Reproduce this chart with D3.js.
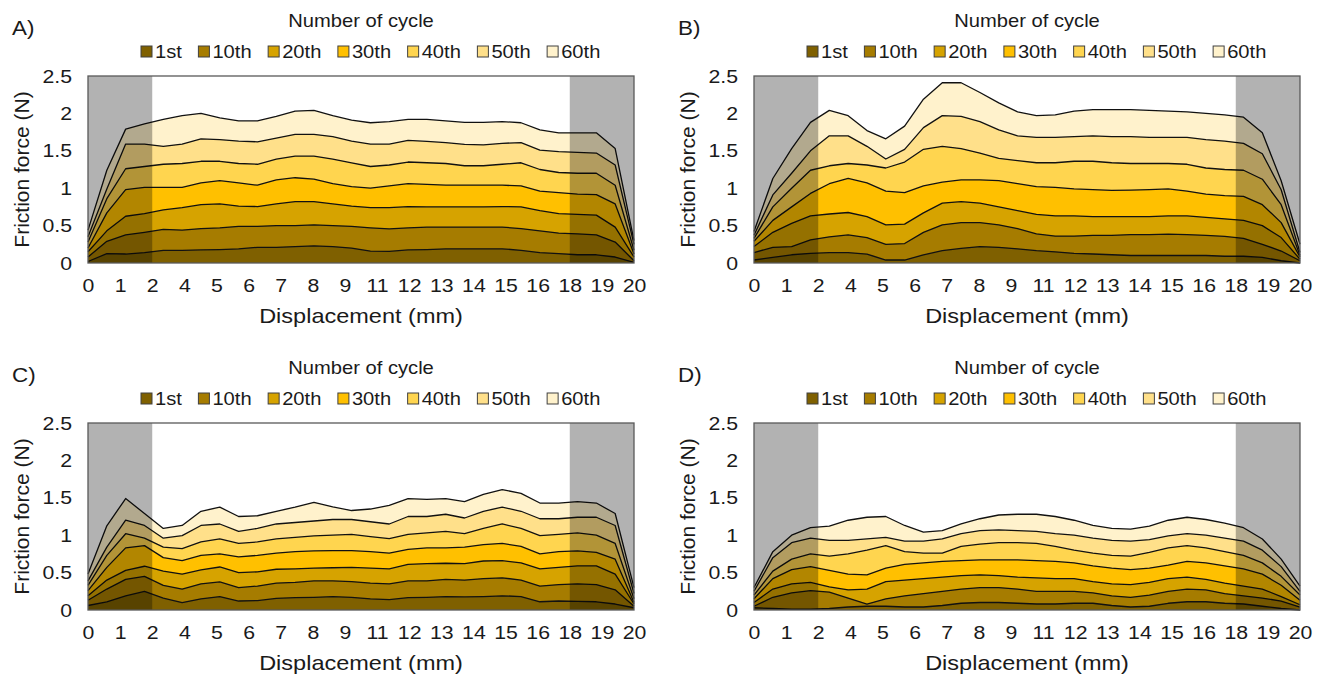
<!DOCTYPE html>
<html>
<head>
<meta charset="utf-8">
<script src="https://cdn.jsdelivr.net/npm/d3@7"></script>
<style>
  body { margin: 0; background: #fff; }
  text { font-family: "Liberation Sans", Arial, sans-serif; fill: #1a1a1a; }
</style>
</head>
<body>
<svg id="chart" width="1320" height="676"></svg>
<script>
// legend / series names
const cycles = ["1st", "10th", "20th", "30th", "40th", "50th", "60th"];
const colors = ["#7f6000", "#a67c00", "#d6a300", "#ffc000", "#ffd54f", "#ffe08a", "#fff2cc"];

// category labels under the x axis, and y ticks
const xLabels = ["0", "1", "2", "4", "5", "6", "7", "8", "9", "11", "12", "13", "14", "15", "16", "18", "19", "20"];
const yTicks = [0, 0.5, 1, 1.5, 2, 2.5];
// shaded run-in / run-out zones
const bands = [["0", "2"], ["18", "20"]];

// friction force (N) per cycle, 30 samples along the stroke
const forceA = [
  [0.02, 0.125, 0.12, 0.14, 0.17, 0.17, 0.175, 0.18, 0.19, 0.21, 0.21, 0.22, 0.23, 0.22, 0.20, 0.16, 0.155, 0.175, 0.18, 0.19, 0.19, 0.19, 0.19, 0.17, 0.14, 0.125, 0.11, 0.11, 0.08, 0.01],
  [0.08, 0.29, 0.375, 0.41, 0.45, 0.44, 0.46, 0.47, 0.49, 0.49, 0.50, 0.50, 0.51, 0.50, 0.49, 0.47, 0.455, 0.47, 0.48, 0.48, 0.48, 0.48, 0.48, 0.46, 0.43, 0.40, 0.39, 0.375, 0.28, 0.03],
  [0.15, 0.43, 0.625, 0.66, 0.71, 0.74, 0.78, 0.79, 0.76, 0.755, 0.79, 0.82, 0.82, 0.79, 0.76, 0.74, 0.74, 0.755, 0.75, 0.75, 0.75, 0.75, 0.755, 0.75, 0.70, 0.66, 0.65, 0.64, 0.48, 0.08],
  [0.20, 0.67, 0.98, 1.01, 1.01, 1.01, 1.07, 1.10, 1.07, 1.04, 1.11, 1.14, 1.12, 1.06, 1.02, 1.00, 1.03, 1.06, 1.05, 1.04, 1.04, 1.04, 1.04, 1.03, 0.96, 0.94, 0.92, 0.915, 0.79, 0.12],
  [0.28, 0.86, 1.26, 1.29, 1.32, 1.33, 1.36, 1.36, 1.33, 1.32, 1.39, 1.43, 1.43, 1.39, 1.34, 1.29, 1.31, 1.35, 1.34, 1.33, 1.30, 1.30, 1.32, 1.34, 1.25, 1.21, 1.20, 1.20, 1.04, 0.17],
  [0.35, 0.99, 1.59, 1.59, 1.56, 1.59, 1.66, 1.65, 1.63, 1.62, 1.67, 1.72, 1.72, 1.69, 1.63, 1.59, 1.59, 1.64, 1.625, 1.61, 1.585, 1.58, 1.60, 1.61, 1.51, 1.49, 1.48, 1.47, 1.31, 0.25],
  [0.44, 1.24, 1.79, 1.86, 1.92, 1.97, 2.00, 1.94, 1.90, 1.90, 1.96, 2.03, 2.04, 1.97, 1.91, 1.875, 1.89, 1.92, 1.92, 1.90, 1.88, 1.88, 1.89, 1.875, 1.78, 1.74, 1.74, 1.74, 1.53, 0.30]
];
const forceB = [
  [0.04, 0.075, 0.11, 0.13, 0.14, 0.14, 0.12, 0.04, 0.04, 0.11, 0.165, 0.195, 0.22, 0.21, 0.19, 0.165, 0.15, 0.13, 0.12, 0.11, 0.10, 0.10, 0.10, 0.10, 0.10, 0.09, 0.09, 0.075, 0.03, 0.00],
  [0.14, 0.21, 0.22, 0.31, 0.35, 0.375, 0.34, 0.25, 0.26, 0.41, 0.51, 0.54, 0.54, 0.51, 0.46, 0.39, 0.36, 0.36, 0.37, 0.37, 0.38, 0.38, 0.385, 0.38, 0.37, 0.355, 0.33, 0.25, 0.16, 0.03],
  [0.22, 0.41, 0.53, 0.63, 0.655, 0.675, 0.62, 0.51, 0.52, 0.67, 0.80, 0.82, 0.80, 0.75, 0.70, 0.65, 0.63, 0.63, 0.62, 0.62, 0.62, 0.62, 0.63, 0.63, 0.61, 0.59, 0.57, 0.50, 0.34, 0.05],
  [0.29, 0.57, 0.75, 0.93, 1.06, 1.13, 1.07, 0.96, 0.94, 1.03, 1.08, 1.11, 1.11, 1.10, 1.06, 1.02, 1.01, 0.99, 0.98, 0.97, 0.975, 0.98, 0.99, 0.96, 0.92, 0.90, 0.89, 0.78, 0.54, 0.08],
  [0.33, 0.75, 1.00, 1.24, 1.30, 1.33, 1.31, 1.27, 1.35, 1.52, 1.56, 1.53, 1.47, 1.40, 1.37, 1.34, 1.34, 1.36, 1.36, 1.34, 1.33, 1.33, 1.33, 1.32, 1.27, 1.25, 1.24, 1.12, 0.78, 0.10],
  [0.37, 0.91, 1.20, 1.50, 1.70, 1.70, 1.56, 1.39, 1.52, 1.81, 1.97, 1.96, 1.89, 1.78, 1.70, 1.68, 1.68, 1.69, 1.70, 1.69, 1.69, 1.68, 1.68, 1.68, 1.65, 1.63, 1.60, 1.46, 0.98, 0.14],
  [0.42, 1.13, 1.53, 1.88, 2.04, 1.97, 1.77, 1.66, 1.83, 2.19, 2.41, 2.41, 2.28, 2.14, 2.02, 1.97, 1.98, 2.03, 2.05, 2.05, 2.05, 2.04, 2.03, 2.02, 2.00, 1.98, 1.95, 1.74, 1.10, 0.25]
];
const forceC = [
  [0.06, 0.11, 0.19, 0.25, 0.16, 0.10, 0.15, 0.18, 0.12, 0.125, 0.155, 0.165, 0.17, 0.18, 0.17, 0.15, 0.14, 0.165, 0.17, 0.18, 0.175, 0.18, 0.19, 0.18, 0.11, 0.12, 0.115, 0.11, 0.08, 0.03],
  [0.13, 0.28, 0.41, 0.45, 0.33, 0.28, 0.35, 0.375, 0.30, 0.32, 0.36, 0.37, 0.39, 0.39, 0.38, 0.36, 0.35, 0.39, 0.39, 0.41, 0.40, 0.42, 0.43, 0.40, 0.32, 0.34, 0.35, 0.34, 0.27, 0.05],
  [0.19, 0.40, 0.53, 0.585, 0.52, 0.48, 0.535, 0.575, 0.50, 0.51, 0.545, 0.55, 0.56, 0.565, 0.57, 0.56, 0.55, 0.61, 0.62, 0.625, 0.62, 0.655, 0.66, 0.63, 0.55, 0.57, 0.59, 0.59, 0.48, 0.08],
  [0.26, 0.57, 0.83, 0.86, 0.70, 0.66, 0.73, 0.75, 0.71, 0.73, 0.76, 0.78, 0.79, 0.795, 0.795, 0.78, 0.76, 0.81, 0.83, 0.83, 0.84, 0.875, 0.89, 0.85, 0.75, 0.78, 0.79, 0.77, 0.68, 0.10],
  [0.33, 0.73, 1.02, 0.96, 0.84, 0.82, 0.91, 0.95, 0.89, 0.91, 0.95, 0.97, 0.99, 1.00, 1.01, 0.98, 0.955, 1.01, 1.03, 1.05, 1.02, 1.09, 1.15, 1.09, 0.995, 1.01, 1.03, 1.00, 0.89, 0.15],
  [0.39, 0.84, 1.20, 1.13, 0.96, 0.995, 1.13, 1.15, 1.05, 1.09, 1.15, 1.17, 1.19, 1.21, 1.21, 1.18, 1.15, 1.25, 1.25, 1.28, 1.23, 1.32, 1.375, 1.32, 1.22, 1.22, 1.24, 1.24, 1.13, 0.22],
  [0.48, 1.125, 1.49, 1.29, 1.09, 1.13, 1.32, 1.375, 1.25, 1.26, 1.32, 1.375, 1.44, 1.38, 1.33, 1.35, 1.40, 1.49, 1.48, 1.49, 1.45, 1.545, 1.61, 1.56, 1.43, 1.43, 1.45, 1.43, 1.29, 0.30]
];
const forceD = [
  [0.03, 0.02, 0.01, 0.01, 0.02, 0.04, 0.05, 0.05, 0.04, 0.04, 0.06, 0.09, 0.10, 0.10, 0.09, 0.08, 0.08, 0.09, 0.09, 0.06, 0.04, 0.05, 0.09, 0.11, 0.11, 0.09, 0.08, 0.05, 0.02, 0.00],
  [0.05, 0.17, 0.23, 0.26, 0.24, 0.16, 0.08, 0.15, 0.19, 0.22, 0.25, 0.28, 0.30, 0.30, 0.28, 0.25, 0.25, 0.25, 0.23, 0.19, 0.17, 0.20, 0.25, 0.28, 0.27, 0.22, 0.19, 0.16, 0.12, 0.04],
  [0.10, 0.28, 0.35, 0.37, 0.31, 0.27, 0.28, 0.38, 0.40, 0.42, 0.44, 0.46, 0.47, 0.46, 0.44, 0.43, 0.42, 0.42, 0.38, 0.35, 0.34, 0.37, 0.42, 0.44, 0.41, 0.36, 0.32, 0.28, 0.18, 0.07],
  [0.15, 0.42, 0.54, 0.58, 0.53, 0.48, 0.47, 0.56, 0.61, 0.63, 0.65, 0.66, 0.67, 0.67, 0.67, 0.66, 0.65, 0.63, 0.59, 0.56, 0.54, 0.56, 0.60, 0.65, 0.63, 0.59, 0.55, 0.48, 0.33, 0.13],
  [0.20, 0.52, 0.68, 0.75, 0.72, 0.75, 0.80, 0.86, 0.78, 0.76, 0.76, 0.85, 0.88, 0.90, 0.90, 0.89, 0.85, 0.80, 0.76, 0.73, 0.72, 0.77, 0.83, 0.86, 0.83, 0.78, 0.73, 0.63, 0.45, 0.20],
  [0.25, 0.70, 0.90, 0.96, 0.93, 0.93, 0.95, 0.97, 0.92, 0.92, 0.95, 1.02, 1.06, 1.07, 1.06, 1.05, 1.02, 1.00, 0.96, 0.93, 0.92, 0.94, 0.99, 1.02, 1.00, 0.96, 0.92, 0.80, 0.58, 0.25],
  [0.30, 0.78, 1.00, 1.10, 1.12, 1.20, 1.24, 1.25, 1.13, 1.04, 1.06, 1.15, 1.22, 1.27, 1.28, 1.28, 1.25, 1.20, 1.13, 1.09, 1.08, 1.12, 1.20, 1.24, 1.21, 1.16, 1.10, 0.95, 0.68, 0.32]
];

// the source figure is stretched horizontally, so the glyphs are too
const SX = 1.12;
const W = 546, H = 187;

const svg = d3.select("#chart");

const panels = [
  { label: "A)", data: forceA, left: 88, top: 76 },
  { label: "B)", data: forceB, left: 754, top: 76 },
  { label: "C)", data: forceC, left: 88, top: 423 },
  { label: "D)", data: forceD, left: 754, top: 423 }
];

function addText(g, x, y, str, size, anchor) {
  return g.append("text")
    .attr("transform", `translate(${x},${y}) scale(${SX},1)`)
    .attr("text-anchor", anchor || "start")
    .style("font-size", size + "px")
    .text(str);
}

function drawPanel(p) {
  const g = svg.append("g").attr("transform", `translate(${p.left},${p.top})`);

  const x = d3.scaleLinear().domain([0, p.data[0].length - 1]).range([0, W]);
  const xCat = d3.scalePoint().domain(xLabels).range([0, W]);
  const y = d3.scaleLinear().domain([0, 2.5]).range([H, 0]);

  const area = d3.area().x((d, i) => x(i)).y0(y(0)).y1(d => y(d));
  const line = d3.line().x((d, i) => x(i)).y(d => y(d));

  // 60th cycle sits at the back, 1st in front
  const order = d3.range(cycles.length).reverse();
  g.selectAll("path.area").data(order).join("path")
    .attr("class", "area")
    .attr("d", k => area(p.data[k]))
    .attr("fill", k => colors[k]);
  g.selectAll("path.edge").data(order).join("path")
    .attr("class", "edge")
    .attr("d", k => line(p.data[k]))
    .attr("fill", "none")
    .attr("stroke", "#111")
    .attr("stroke-width", 1.3)
    .attr("stroke-linejoin", "round");

  // grey zones
  g.selectAll("rect.band").data(bands).join("rect")
    .attr("class", "band")
    .attr("x", b => xCat(b[0]))
    .attr("width", b => xCat(b[1]) - xCat(b[0]))
    .attr("y", 0)
    .attr("height", H)
    .attr("fill", "#000")
    .attr("fill-opacity", 0.3);

  // frame
  g.append("rect").attr("width", W).attr("height", H)
    .attr("fill", "none").attr("stroke", "#595959").attr("stroke-width", 1.3);

  // axes
  const yAxis = g.append("g")
    .call(d3.axisLeft(y).tickValues(yTicks).tickSize(0).tickPadding(16).tickFormat(d => d));
  yAxis.select(".domain").remove();
  yAxis.selectAll("text")
    .attr("x", -16 / SX)
    .attr("transform", `scale(${SX},1)`)
    .style("font-size", "19px")
    .style("font-family", "'Liberation Sans', Arial, sans-serif");

  const xAxis = g.append("g").attr("transform", `translate(0,${H})`)
    .call(d3.axisBottom(xCat).tickSize(0).tickPadding(16));
  xAxis.select(".domain").remove();
  xAxis.selectAll("text")
    .attr("transform", `scale(${SX},1)`)
    .style("font-size", "19px")
    .style("font-family", "'Liberation Sans', Arial, sans-serif");

  // titles
  addText(g, W / 2, H + 60, "Displacement (mm)", 21, "middle");
  g.append("text")
    .attr("transform", `translate(-59,${H / 2}) rotate(-90)`)
    .attr("text-anchor", "middle")
    .style("font-size", "21px")
    .text("Friction force (N)");
  addText(g, -76, -41, p.label, 20);
  addText(g, W / 2, -49, "Number of cycle", 18, "middle");

  // legend
  const leg = g.append("g").attr("transform", "translate(53,0)");
  let cx = 0;
  cycles.forEach((c, k) => {
    const item = leg.append("g").attr("transform", `translate(${cx},0)`);
    item.append("rect").attr("x", 0).attr("y", -30).attr("width", 11).attr("height", 11)
      .attr("fill", colors[k]).attr("stroke", "#404040").attr("stroke-width", 1);
    const t = addText(item, 14, -18, c, 18);
    cx += 14 + t.node().getComputedTextLength() * SX + 16.5;
  });
}

panels.forEach(drawPanel);
</script>
</body>
</html>
